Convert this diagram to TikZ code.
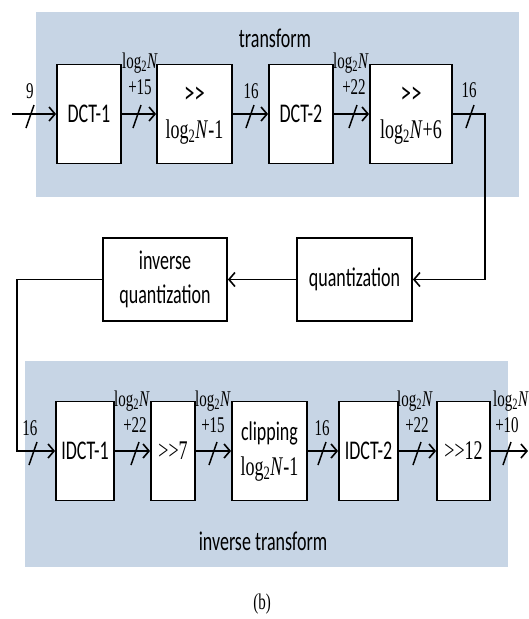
\documentclass[tikz,border=0pt]{standalone}
\usepackage{fontspec}
\setmainfont{Liberation Serif}
\newfontfamily\carl{Carlito}
\usetikzlibrary{arrows.meta}
\newcommand{\vs}[1]{\scalebox{1}[1.5]{#1}}
\newcommand{\lgN}{log\textsubscript{2}\textit{N}}
\definecolor{band}{RGB}{199,213,229}
\begin{document}
\begin{tikzpicture}[x=1pt,y=-1pt,
  box/.style={draw=black, line width=1.8pt, fill=white, inner sep=0pt, align=center,
    font=\fontsize{18}{23}\selectfont},
  lbl/.style={inner sep=0pt, font=\fontsize{15}{16}\selectfont},
  ttl/.style={inner sep=0pt, font=\carl\fontsize{18}{20}\selectfont},
  arr/.style={line width=1.8pt, -{Straight Barb[length=6pt,width=14pt,line width=1.6pt]}},
  sl/.style={line width=1.5pt}]
\useasboundingbox (0,0) rectangle (529,619);
% bands
\fill[band] (36,12) rectangle (519,197);
\fill[band] (25,361) rectangle (508,567);
\node[ttl] (tt) at (275,38) {\vs{transform}};
\node[ttl] (it) at (263,541) {\vs{inverse transform}};
% top row
\node[box, minimum width=64pt, minimum height=99pt] (dct1) at (89,114) {\vs{\carl DCT-1}};
\node[box, minimum width=75pt, minimum height=99pt] (sh1) at (194.5,114) {\vs{\begin{tabular}{@{}c@{}}{\carl\fontsize{21}{23}\selectfont >{}>}\\\lgN-1\end{tabular}}};
\node[box, minimum width=64pt, minimum height=99pt] (dct2) at (301,114) {\vs{\carl DCT-2}};
\node[box, minimum width=82pt, minimum height=99pt] (sh2) at (411,114) {\vs{\begin{tabular}{@{}c@{}}{\carl\fontsize{21}{23}\selectfont >{}>}\\\lgN+6\end{tabular}}};
% middle
\node[box, minimum width=115pt, minimum height=83pt] (q) at (354.5,279.5) {\vs{\carl quantization}};
\node[box, minimum width=124pt, minimum height=83pt] (iq) at (165,279.5) {\vs{\carl\begin{tabular}{@{}c@{}}inverse\\quantization\end{tabular}}};
% bottom row
\node[box, minimum width=58pt, minimum height=99pt] (idct1) at (85,451) {\vs{\carl IDCT-1}};
\node[box, minimum width=44pt, minimum height=99pt] (sh7) at (173,451) {\vs{>{}>7}};
\node[box, minimum width=75pt, minimum height=99pt] (clip) at (269.5,451) {\vs{\begin{tabular}{@{}c@{}}{\carl clipping}\\\lgN-1\end{tabular}}};
\node[box, minimum width=59pt, minimum height=99pt] (idct2) at (368.5,451) {\vs{\carl IDCT-2}};
\node[box, minimum width=53pt, minimum height=99pt] (sh12) at (463.5,451) {\vs{>{}>12}};
% coordinates
\coordinate (in) at (12,114);
\coordinate (r1) at (485,114);
\coordinate (r2) at (485,279.5);
\coordinate (l1) at (17,279.5);
\coordinate (l2) at (17,451);
\coordinate (out) at (528,451);
% connectors
\draw[arr] (in) -- (dct1.west);
\draw[arr] (dct1.east) -- (sh1.west);
\draw[arr] (sh1.east) -- (dct2.west);
\draw[arr] (dct2.east) -- (sh2.west);
\draw[arr] (sh2.east) -- (r1) -- (r2) -- (q.east);
\draw[arr] (q.west) -- (iq.east);
\draw[arr] (iq.west) -- (l1) -- (l2) -- (idct1.west);
\draw[arr] (idct1.east) -- (sh7.west);
\draw[arr] (sh7.east) -- (clip.west);
\draw[arr] (clip.east) -- (idct2.west);
\draw[arr] (idct2.east) -- (sh12.west);
\draw[arr] (sh12.east) -- (out);
% slashes
\foreach \x in {30,137,250,353,470}{\draw[sl] (\x-4,114+14) -- (\x+4,114-9);}
\foreach \x in {33,135,213,322,417,507}{\draw[sl] (\x-4,451+14) -- (\x+4,451-9);}
% labels top
\node[lbl] (a9) at (30,91) {\vs{9}};
\node[lbl] (b1) at (140,63) {\vs{\lgN}};
\node[lbl] (b2) at (140,87) {\vs{+15}};
\node[lbl] (c1) at (251,91) {\vs{16}};
\node[lbl] (d1) at (351,63) {\vs{\lgN}};
\node[lbl] (d2) at (354,87) {\vs{+22}};
\node[lbl] (e1) at (469,90) {\vs{16}};
% labels bottom
\node[lbl] (f1) at (30,428) {\vs{16}};
\node[lbl] (g1) at (132,401) {\vs{\lgN}};
\node[lbl] (g2) at (135,425) {\vs{+22}};
\node[lbl] (h1) at (213,401) {\vs{\lgN}};
\node[lbl] (h2) at (213,425) {\vs{+15}};
\node[lbl] (i1) at (322,428) {\vs{16}};
\node[lbl] (j1) at (415,401) {\vs{\lgN}};
\node[lbl] (j2) at (417,425) {\vs{+22}};
\node[lbl] (k1) at (511,401) {\vs{\lgN}};
\node[lbl] (k2) at (507,425) {\vs{+10}};
\node[lbl, font=\fontsize{15}{17}\selectfont] (cap) at (262,604) {\vs{(b)}};
\end{tikzpicture}
\end{document}
